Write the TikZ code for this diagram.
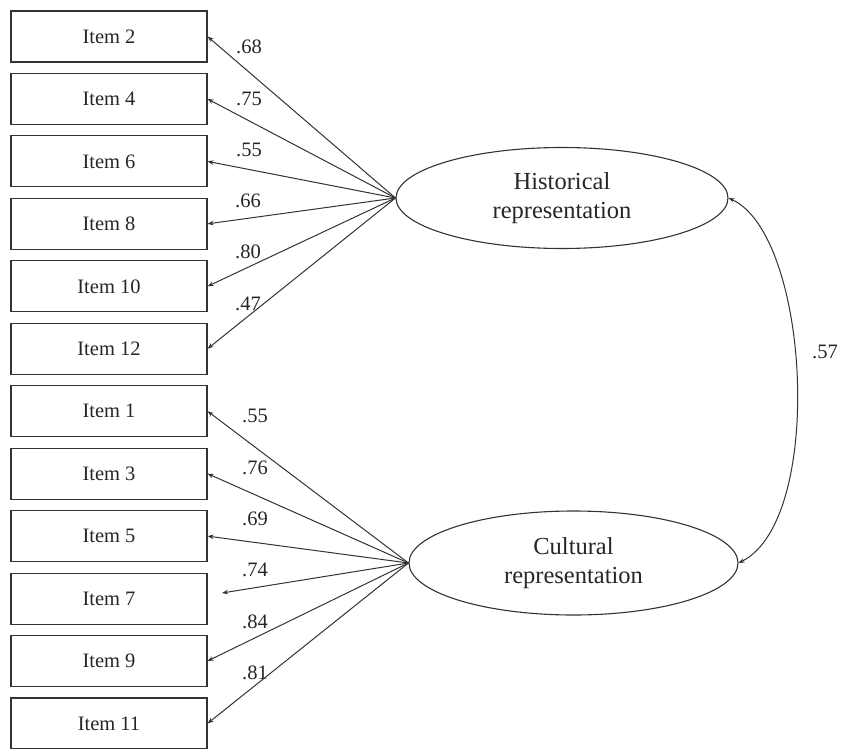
\documentclass[tikz,border=0pt]{standalone}
\usepackage{fontspec}
\setmainfont{Liberation Serif}
\usetikzlibrary{arrows.meta,shapes.geometric}
\begin{document}
\begin{tikzpicture}[x=1pt,y=-1pt,
  itembox/.style={draw=black!80,line width=1.1pt,minimum width=196pt,minimum height=51pt,inner sep=0pt,font=\fontsize{20.5}{24}\selectfont,text=black!85},
  latent/.style={draw=black!80,line width=1.1pt,ellipse,inner sep=0pt,align=center,font=\fontsize{24.5}{29}\selectfont,text=black!85},
  load/.style={draw=black!80,line width=1pt,-{Stealth[length=6pt,width=4.5pt]}},
  lbl/.style={font=\fontsize{20.5}{24}\selectfont,text=black!85,inner sep=0pt}]
\useasboundingbox (0,0) rectangle (843,749);
% item boxes
\foreach \n/\i in {2/0,4/1,6/2,8/3,10/4,12/5,1/6,3/7,5/8,7/9,9/10,11/11}{
  \node[itembox] (it\n) at (109,{36.5+62.45*\i}) {Item \n};
}
% latent variables
\node[latent,minimum width=332pt,minimum height=101pt] (H) at (562,198) {Historical\\representation};
\node[latent,minimum width=329pt,minimum height=104pt] (C) at (573.5,563) {Cultural\\representation};
\coordinate (e7) at (222,593);
% loadings
\foreach \n in {2,4,6,8,10,12}{ \draw[load] (H.west) -- (it\n.east); }
\foreach \n in {1,3,5,9,11}{ \draw[load] (C.west) -- (it\n.east); }
\draw[load] (C.west) -- (e7);
% loading labels
\node[lbl] at (249,47) {.68};
\node[lbl] at (249,99) {.75};
\node[lbl] at (249,150) {.55};
\node[lbl] at (248,201) {.66};
\node[lbl] at (248,252) {.80};
\node[lbl] at (248,304) {.47};
\node[lbl] at (255,416) {.55};
\node[lbl] at (255,468) {.76};
\node[lbl] at (255,519) {.69};
\node[lbl] at (255,570) {.74};
\node[lbl] at (255,622) {.84};
\node[lbl] at (255,673) {.81};
% covariance
\draw[draw=black!80,line width=1pt,{Stealth[length=6pt,width=4.5pt]}-{Stealth[length=6pt,width=4.5pt]}] (H.east) .. controls (810,235) and (825,520) .. (C.east);
\node[lbl] at (825,352) {.57};
\end{tikzpicture}
\end{document}
